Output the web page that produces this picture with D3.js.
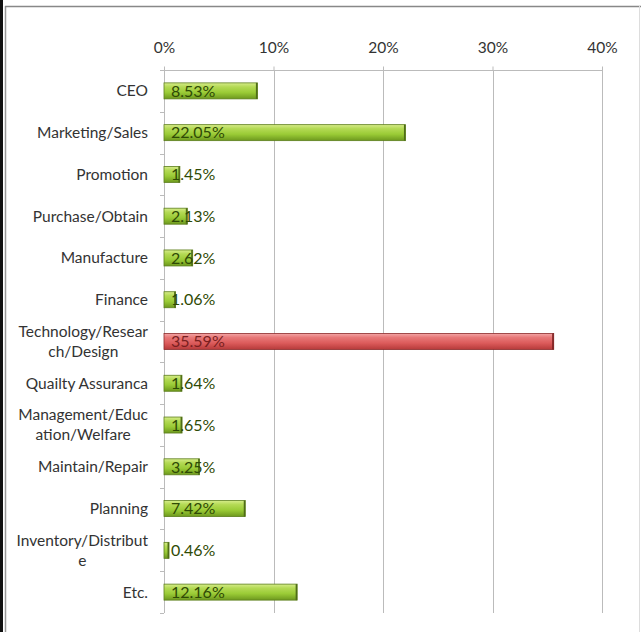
<!DOCTYPE html>
<html><head><meta charset="utf-8">
<script src="https://cdn.jsdelivr.net/npm/d3@7"></script>
<style>html,body{margin:0;padding:0;background:#fff;}svg{display:block;}</style>
</head><body>
<script>
const categories = ["CEO","Marketing/Sales","Promotion","Purchase/Obtain","Manufacture","Finance","Technology/Resear\nch/Design","Quailty Assuranca","Management/Educ\nation/Welfare","Maintain/Repair","Planning","Inventory/Distribut\ne","Etc."];
const values = [8.53,22.05,1.45,2.13,2.62,1.06,35.59,1.64,1.65,3.25,7.42,0.46,12.16];
const highlight = [false,false,false,false,false,false,true,false,false,false,false,false,false];
const tickValues = [0,10,20,30,40];

(function(){
const W = 641, H = 632;
const svg = d3.select("body").append("svg").attr("width", W).attr("height", H);
const font = "Lato, 'Open Sans', sans-serif";

// frame
svg.append("rect").attr("x",0).attr("y",0).attr("width",3).attr("height",H).attr("fill","#111");
svg.append("line").attr("x1",5.5).attr("x2",5.5).attr("y1",6).attr("y2",H).attr("stroke","#999").attr("stroke-width",1.5);
svg.append("line").attr("x1",5).attr("x2",W).attr("y1",6.5).attr("y2",6.5).attr("stroke","#888").attr("stroke-width",1.5);
svg.append("line").attr("x1",639.5).attr("x2",639.5).attr("y1",6).attr("y2",H).attr("stroke","#ddd").attr("stroke-width",1);

const pl = 164, pr = 602, pt = 70, pb = 613;
const x = d3.scaleLinear().domain([0,40]).range([pl,pr]);
const yb = d3.scaleBand().domain(categories).range([pt,pb]);

const defs = svg.append("defs");
function grad(id, stops){
  const g = defs.append("linearGradient").attr("id",id).attr("x1",0).attr("x2",0).attr("y1",0).attr("y2",1);
  stops.forEach(s=>g.append("stop").attr("offset",s[0]).attr("stop-color",s[1]));
}
grad("gGreen",[[0,"#d6ec8a"],[0.25,"#b4da55"],[0.6,"#9acb36"],[1,"#6d981e"]]);
grad("gRed",[[0,"#f4a6a6"],[0.25,"#e77878"],[0.6,"#dc5b5b"],[1,"#b63a3a"]]);

// grid
svg.append("g").selectAll("line").data(tickValues.slice(1)).join("line")
  .attr("x1",d=>Math.round(x(d))+0.5).attr("x2",d=>Math.round(x(d))+0.5)
  .attr("y1",pt).attr("y2",pb).attr("stroke","#bbb").attr("stroke-width",1);

// top axis
const ax = d3.axisTop(x).tickValues(tickValues).tickFormat(d=>d+"%").tickSize(4).tickPadding(14);
const gx = svg.append("g").attr("transform",`translate(0,${pt+0.5})`).call(ax);
gx.select(".domain").attr("stroke","#bbb").attr("d",`M${pl},0H${pr}`);
gx.selectAll(".tick line").attr("stroke","#bbb");
gx.selectAll("text").attr("font-family",font).attr("font-size",15.5).attr("fill","#333");

// left axis
svg.append("line").attr("x1",pl+0.5).attr("x2",pl+0.5).attr("y1",pt).attr("y2",pb).attr("stroke","#bbb");
svg.append("g").selectAll("line").data(categories.concat(["__end"])).join("line")
  .attr("x1",pl-4).attr("x2",pl)
  .attr("y1",(d,i)=>Math.round(pt+i*yb.step())+0.5).attr("y2",(d,i)=>Math.round(pt+i*yb.step())+0.5)
  .attr("stroke","#bbb");

// category labels
const labG = svg.append("g");
categories.forEach((c,i)=>{
  const lines = c.split("\n");
  const cy = yb(c)+yb.bandwidth()/2;
  const t = labG.append("text").attr("font-family",font).attr("font-size",15.5).attr("fill","#333");
  lines.forEach((ln,j)=>{
    t.append("tspan").attr("x",0).attr("y",cy + (j-(lines.length-1)/2)*20).attr("dy","0.35em").text(ln);
  });
  let wmax = 0;
  t.selectAll("tspan").each(function(){ wmax = Math.max(wmax, this.getComputedTextLength()); });
  t.attr("text-anchor","middle").selectAll("tspan").attr("x", 148 - wmax/2);
});

// bars
const bars = svg.append("g");
const bh = 16;
categories.forEach((c,i)=>{
  const cy = yb(c)+yb.bandwidth()/2;
  const red = highlight[i];
  bars.append("rect").attr("x",x(0)).attr("y",cy-bh/2).attr("width",Math.max(1,x(values[i])-x(0))).attr("height",bh)
    .attr("fill",red?"url(#gRed)":"url(#gGreen)")
    .attr("stroke",red?"#8c2b2b":"#5d7f1d").attr("stroke-width",0.8);
  bars.append("rect").attr("x",x(values[i])-1.5).attr("y",cy-bh/2).attr("width",1.5).attr("height",bh)
    .attr("fill",red?"#7a2020":"#4f6d17");
  bars.append("text").attr("x",x(0)+7).attr("y",cy).attr("dy","0.36em")
    .attr("font-family",font).attr("font-size",16)
    .attr("fill",red?"#7a1f1f":"#2f4a05")
    .text(values[i].toFixed(2)+"%");
});
})();
</script>
</body></html>
